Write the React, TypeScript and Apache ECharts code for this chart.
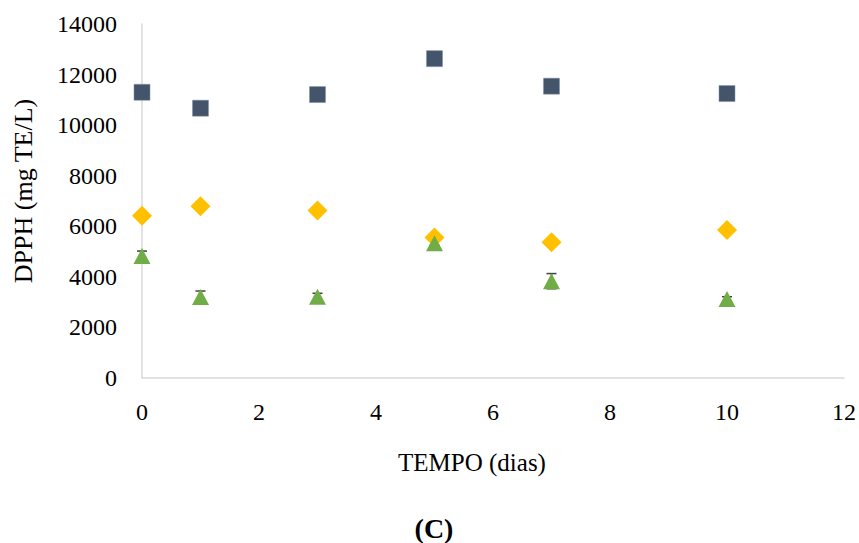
import React, { useEffect, useRef } from "react";
import * as echarts from "echarts";

const days = [0, 1, 3, 5, 7, 10];
const squareValues = [11300, 10670, 11210, 12630, 11540, 11250];
const diamondValues = [6420, 6790, 6620, 5560, 5370, 5850];
const triangleValues = [4820, 3200, 3210, 5330, 3830, 3125];
const triangleErrors = [200, 240, 140, 80, 300, 90];
const xTicks = [0, 2, 4, 6, 8, 10, 12];
const yTicks = [0, 2000, 4000, 6000, 8000, 10000, 12000, 14000];

const FONT = "'Liberation Serif', 'Times New Roman', serif";

export default function App() {
  const ref = useRef<HTMLDivElement>(null);
  useEffect(() => {
    if (!ref.current) return;
    const chart = echarts.init(ref.current, null, { renderer: "svg" });
    const pts = (vals: number[]) => days.map((d, i) => [d, vals[i]]);
    const errData = days.map((d, i) => [d, triangleValues[i] - triangleErrors[i], triangleValues[i] + triangleErrors[i]]);
    chart.setOption({
      animation: false,
      backgroundColor: "#ffffff",
      grid: { left: 142, right: 11, top: 24, bottom: 165, containLabel: false },
      xAxis: {
        type: "value",
        min: xTicks[0],
        max: xTicks[xTicks.length - 1],
        interval: 2,
        axisLine: { show: true, lineStyle: { color: "#D9D9D9", width: 1.5 } },
        axisTick: { show: false },
        splitLine: { show: false },
        axisLabel: { fontFamily: FONT, fontSize: 24, color: "#000", margin: 22, formatter: (v: number) => String(v) },
      },
      yAxis: {
        type: "value",
        min: yTicks[0],
        max: yTicks[yTicks.length - 1],
        interval: 2000,
        axisLine: { show: true, lineStyle: { color: "#D9D9D9", width: 1.5 } },
        axisTick: { show: false },
        splitLine: { show: false },
        axisLabel: { fontFamily: FONT, fontSize: 24, color: "#000", margin: 25, formatter: (v: number) => String(v) },
      },
      graphic: [
        {
          type: "text",
          x: 23,
          y: 191,
          rotation: Math.PI / 2,
          style: { text: "DPPH (mg TE/L)", fontFamily: FONT, fontSize: 26, fill: "#000", align: "center", verticalAlign: "middle" },
        },
        {
          type: "text",
          x: 472,
          y: 462,
          style: { text: "TEMPO (dias)", fontFamily: FONT, fontSize: 25, fill: "#000", align: "center", verticalAlign: "middle" },
        },
        {
          type: "text",
          x: 434,
          y: 528,
          style: { text: "(C)", fontFamily: FONT, fontSize: 28, fontWeight: "bold", fill: "#000", align: "center", verticalAlign: "middle" },
        },
      ],
      series: [
        {
          type: "custom",
          z: 1,
          data: errData,
          renderItem: (params: any, api: any) => {
            const x = api.value(0);
            const lo = api.coord([x, api.value(1)]);
            const hi = api.coord([x, api.value(2)]);
            const half = 5;
            const style = { stroke: "#404040", lineWidth: 1.5 };
            return {
              type: "group",
              children: [
                { type: "line", shape: { x1: lo[0], y1: lo[1], x2: hi[0], y2: hi[1] }, style },
                { type: "line", shape: { x1: hi[0] - half, y1: hi[1], x2: hi[0] + half, y2: hi[1] }, style },
                { type: "line", shape: { x1: lo[0] - half, y1: lo[1], x2: lo[0] + half, y2: lo[1] }, style },
              ],
            };
          },
        },
        {
          type: "scatter",
          z: 3,
          data: pts(squareValues),
          symbol: "rect",
          symbolSize: 16,
          itemStyle: { color: "#44546A", opacity: 1, borderColor: "#8090a8", borderWidth: 0.5 },
        },
        {
          type: "scatter",
          z: 3,
          data: pts(diamondValues),
          symbol: "diamond",
          symbolSize: [20, 20],
          itemStyle: { color: "#FFC000", opacity: 1 },
        },
        {
          type: "scatter",
          z: 3,
          data: pts(triangleValues),
          symbol: "triangle",
          symbolSize: [17, 16],
          itemStyle: { color: "#70AD47", opacity: 1 },
        },
      ],
    });
    return () => chart.dispose();
  }, []);
  return <div ref={ref} style={{ width: 859, height: 543, position: "absolute", left: 0, top: 0 }} />;
}
